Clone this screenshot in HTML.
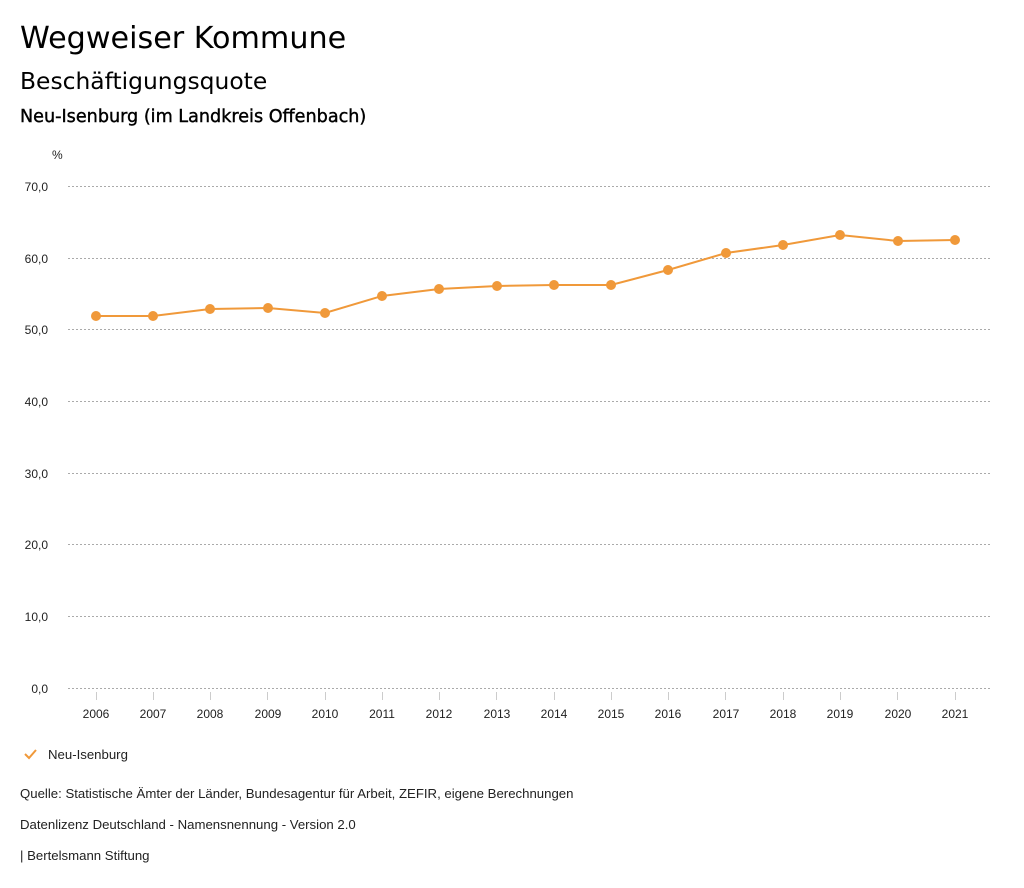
<!DOCTYPE html>
<html><head><meta charset="utf-8"><style>
body{margin:0;background:#fff;width:1024px;height:888px;overflow:hidden}
svg{display:block}
</style></head><body>
<svg width="1024" height="888" xmlns="http://www.w3.org/2000/svg">
<g font-family="DejaVu Sans, sans-serif" fill="#000">
<text x="20" y="48" font-size="30.2">Wegweiser Kommune</text>
<text x="20" y="89" font-size="23.4">Beschäftigungsquote</text>
<text x="20" y="122" font-size="17.6" stroke="#000" stroke-width="0.4">Neu-Isenburg (im Landkreis Offenbach)</text>
</g>
<g font-family="Liberation Sans, sans-serif" font-size="12" fill="#222">
<text x="52" y="159">%</text>
<g text-anchor="end">
<text x="48" y="191">70,0</text><text x="48" y="263">60,0</text><text x="48" y="334">50,0</text>
<text x="48" y="406">40,0</text><text x="48" y="478">30,0</text><text x="48" y="549">20,0</text>
<text x="48" y="621">10,0</text><text x="48" y="693">0,0</text>
</g>
<g stroke="#aaa" stroke-dasharray="2,2" stroke-width="1">
<line x1="68" x2="990" y1="186.5" y2="186.5"/><line x1="68" x2="990" y1="258.5" y2="258.5"/>
<line x1="68" x2="990" y1="329.5" y2="329.5"/><line x1="68" x2="990" y1="401.5" y2="401.5"/>
<line x1="68" x2="990" y1="473.5" y2="473.5"/><line x1="68" x2="990" y1="544.5" y2="544.5"/>
<line x1="68" x2="990" y1="616.5" y2="616.5"/><line x1="68" x2="990" y1="688.5" y2="688.5"/>
</g>
<g stroke="#ccc"><line x1="96.5" x2="96.5" y1="692" y2="700"/><line x1="153.5" x2="153.5" y1="692" y2="700"/><line x1="210.5" x2="210.5" y1="692" y2="700"/><line x1="267.5" x2="267.5" y1="692" y2="700"/><line x1="325.5" x2="325.5" y1="692" y2="700"/><line x1="382.5" x2="382.5" y1="692" y2="700"/><line x1="439.5" x2="439.5" y1="692" y2="700"/><line x1="496.5" x2="496.5" y1="692" y2="700"/><line x1="554.5" x2="554.5" y1="692" y2="700"/><line x1="611.5" x2="611.5" y1="692" y2="700"/><line x1="668.5" x2="668.5" y1="692" y2="700"/><line x1="725.5" x2="725.5" y1="692" y2="700"/><line x1="783.5" x2="783.5" y1="692" y2="700"/><line x1="840.5" x2="840.5" y1="692" y2="700"/><line x1="897.5" x2="897.5" y1="692" y2="700"/><line x1="955.5" x2="955.5" y1="692" y2="700"/></g>
<g text-anchor="middle">
<text x="96" y="718">2006</text><text x="153" y="718">2007</text><text x="210" y="718">2008</text><text x="268" y="718">2009</text><text x="325" y="718">2010</text><text x="382" y="718">2011</text><text x="439" y="718">2012</text><text x="497" y="718">2013</text><text x="554" y="718">2014</text><text x="611" y="718">2015</text><text x="668" y="718">2016</text><text x="726" y="718">2017</text><text x="783" y="718">2018</text><text x="840" y="718">2019</text><text x="898" y="718">2020</text><text x="955" y="718">2021</text>
</g>
<polyline fill="none" stroke="#f0993a" stroke-width="2" points="96,316 153,316 210,309 268,308 325,313 382,296 439,289 497,286 554,285 611,285 668,270 726,253 783,245 840,235 898,241 955,240"/>
<g fill="#f0993a">
<circle cx="96" cy="316" r="5"/><circle cx="153" cy="316" r="5"/><circle cx="210" cy="309" r="5"/><circle cx="268" cy="308" r="5"/><circle cx="325" cy="313" r="5"/><circle cx="382" cy="296" r="5"/><circle cx="439" cy="289" r="5"/><circle cx="497" cy="286" r="5"/><circle cx="554" cy="285" r="5"/><circle cx="611" cy="285" r="5"/><circle cx="668" cy="270" r="5"/><circle cx="726" cy="253" r="5"/><circle cx="783" cy="245" r="5"/><circle cx="840" cy="235" r="5"/><circle cx="898" cy="241" r="5"/><circle cx="955" cy="240" r="5"/>
</g>
<polyline points="25,754 29,758 36,750" fill="none" stroke="#f0993a" stroke-width="2"/>
<g font-size="13.2">
<text x="48" y="759">Neu-Isenburg</text>
<text x="20" y="798">Quelle: Statistische Ämter der Länder, Bundesagentur für Arbeit, ZEFIR, eigene Berechnungen</text>
<text x="20" y="829">Datenlizenz Deutschland - Namensnennung - Version 2.0</text>
<text x="20" y="860">| Bertelsmann Stiftung</text>
</g>
</g>
</svg>
</body></html>
